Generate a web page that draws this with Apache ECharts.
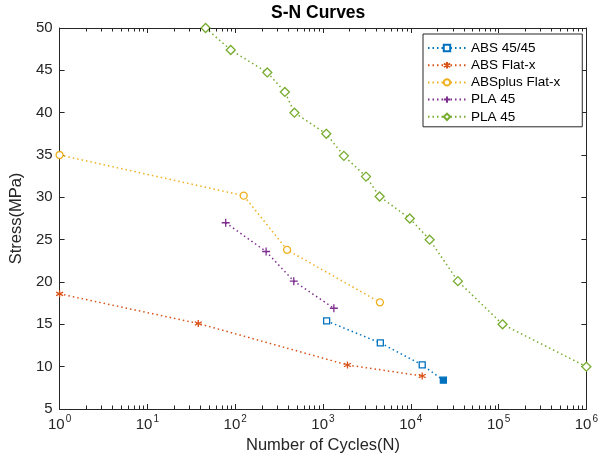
<!DOCTYPE html>
<html>
<head>
<meta charset="utf-8">
<style>
    html, body { margin: 0; padding: 0; overflow: hidden; background: #fff; }
</style>
</head>
<body>
<div id="chart" style="width:601px; height:459px;"></div>
<script src="https://cdn.jsdelivr.net/npm/echarts@6/dist/echarts.min.js"></script>
<script>
    // cycles (N) and stress (MPa)
    var abs4545Cycles = [1100, 4500, 13500, 23500];
    var abs4545Stress = [15.4, 12.8, 10.2, 8.4];

    var absFlatCycles = [1, 38, 1900, 13500];
    var absFlatStress = [18.6, 15.1, 10.2, 8.9];

    var absPlusCycles = [1, 125, 390, 4450];
    var absPlusStress = [35, 30.2, 23.8, 17.6];

    var pla45aCycles = [78, 225, 465, 1330];
    var pla45aStress = [27, 23.6, 20.1, 16.9];

    var pla45bCycles = [46, 89, 232, 368, 473, 1090, 1730, 3090, 4420, 9740, 16400, 34400, 111000, 1000000];
    var pla45bStress = [50, 47.4, 44.75, 42.45, 40, 37.5, 34.9, 32.45, 30.1, 27.5, 25, 20.1, 15, 10];

    var seriesNames = ['ABS 45/45', 'ABS Flat-x', 'ABSplus Flat-x', 'PLA 45', 'PLA 45 '];
    var colors = ['#0072BD', '#D95319', '#EDB120', '#7E2F8E', '#77AC30'];

    var yTicks = [5, 10, 15, 20, 25, 30, 35, 40, 45, 50];

    function zip(xs, ys) {
        return xs.map(function (x, i) { return [x, ys[i]]; });
    }

    var axisColor = '#262626';
    var font = 'Liberation Sans, Arial, Helvetica, sans-serif';

    // minor ticks of the log axis (2..9 in each decade)
    var minorVals = [];
    for (var k = 0; k < 6; k++) {
        for (var m = 2; m <= 9; m++) minorVals.push(m * Math.pow(10, k));
    }

    var asterisk = 'path://M0,-10L0,10M-8.66,-5L8.66,5M-8.66,5L8.66,-5';
    var plus = 'path://M0,-10L0,10M-10,0L10,0';

    function lineSeries(name, data, color, symbol, size, hollow) {
        return {
            name: name,
            type: 'line',
            data: data,
            symbol: symbol,
            symbolSize: size,
            z: 3,
            lineStyle: {color: color, width: 1.5, type: [1.5, 3]},
            itemStyle: {
                color: hollow ? '#fff' : color,
                borderColor: color,
                borderWidth: 1.3
            },
            emphasis: {disabled: true}
        };
    }

    var absData = zip(abs4545Cycles, abs4545Stress);
    // last point is drawn filled in the reference
    absData[absData.length - 1] = {
        value: absData[absData.length - 1],
        itemStyle: {color: colors[0]}
    };

    var chart = echarts.init(document.getElementById('chart'), null, {renderer: 'canvas'});

    chart.setOption({
        animation: false,
        backgroundColor: '#fff',
        title: {
            text: 'S-N Curves',
            left: 271,
            top: 4,
            padding: 0,
            textStyle: {fontFamily: font, fontSize: 17.5, fontWeight: 'bold', color: '#000'}
        },
        legend: {
            data: seriesNames,
            orient: 'vertical',
            left: 423,
            top: 34,
            padding: [7, 22, 3, 4],
            itemWidth: 38,
            itemHeight: 8,
            itemGap: 3.2,
            borderColor: axisColor,
            borderWidth: 1,
            backgroundColor: '#fff',
            selectedMode: false,
            formatter: function (name) { return name.trim(); },
            textStyle: {fontFamily: font, fontSize: 13.5, color: '#000'}
        },
        grid: {left: 57, right: 14, top: 28, bottom: 50, containLabel: false},
        xAxis: [{
            type: 'log',
            logBase: 10,
            min: 1,
            max: 1000000,
            splitNumber: 6,
            position: 'bottom',
            name: 'Number of Cycles(N)',
            nameLocation: 'middle',
            nameGap: 24,
            nameTextStyle: {fontFamily: font, fontSize: 16.5, color: axisColor},
            axisLine: {lineStyle: {color: axisColor, width: 1}},
            axisTick: {inside: true, length: 5, lineStyle: {color: axisColor}},
            splitLine: {show: false},
            axisLabel: {
                margin: 5,
                color: axisColor,
                formatter: function (v) {
                    var e = Math.round(Math.log(v) / Math.LN10);
                    return '{b|10}{s|' + e + '}';
                },
                rich: {
                    b: {fontFamily: font, fontSize: 15, color: axisColor, verticalAlign: 'bottom'},
                    s: {fontFamily: font, fontSize: 10, color: axisColor, verticalAlign: 'bottom', padding: [0, 0, 8, 1]}
                }
            }
        }, {
            type: 'log',
            logBase: 10,
            min: 1,
            max: 1000000,
            splitNumber: 6,
            position: 'top',
            axisLine: {lineStyle: {color: axisColor, width: 1}},
            axisTick: {inside: true, length: 5, lineStyle: {color: axisColor}},
            axisLabel: {show: false},
            splitLine: {show: false}
        }],
        yAxis: [{
            type: 'value',
            min: yTicks[0],
            max: yTicks[yTicks.length - 1],
            interval: 5,
            name: 'Stress(MPa)',
            nameLocation: 'middle',
            nameGap: 29,
            nameTextStyle: {fontFamily: font, fontSize: 16.5, color: axisColor},
            axisLine: {show: true, lineStyle: {color: axisColor, width: 1}},
            axisTick: {show: true, inside: true, length: 5, lineStyle: {color: axisColor}},
            splitLine: {show: false},
            axisLabel: {margin: 7, fontFamily: font, fontSize: 15, color: axisColor}
        }, {
            type: 'value',
            min: yTicks[0],
            max: yTicks[yTicks.length - 1],
            interval: 5,
            position: 'right',
            axisLine: {show: true, lineStyle: {color: axisColor, width: 1}},
            axisTick: {show: true, inside: true, length: 5, lineStyle: {color: axisColor}},
            axisLabel: {show: false},
            splitLine: {show: false}
        }],
        series: [
            lineSeries(seriesNames[0], absData, colors[0], 'rect', 6, true),
            lineSeries(seriesNames[1], zip(absFlatCycles, absFlatStress), colors[1], asterisk, 7, false),
            lineSeries(seriesNames[2], zip(absPlusCycles, absPlusStress), colors[2], 'circle', 7, true),
            lineSeries(seriesNames[3], zip(pla45aCycles, pla45aStress), colors[3], plus, 8, false),
            lineSeries(seriesNames[4], zip(pla45bCycles, pla45bStress), colors[4], 'diamond', 9, true)
        ]
    });

    // minor log ticks on bottom and top axes, placed through the axis scale
    var yBottom = chart.convertToPixel({yAxisIndex: 0}, yTicks[0]);
    var yTop = chart.convertToPixel({yAxisIndex: 0}, yTicks[yTicks.length - 1]);
    var tickEls = [];
    minorVals.forEach(function (v) {
        var x = Math.round(chart.convertToPixel({xAxisIndex: 0}, v));
        tickEls.push({type: 'rect', silent: true, z: 100,
            shape: {x: x, y: yBottom - 3.5, width: 1, height: 3.5},
            style: {fill: axisColor}});
        tickEls.push({type: 'rect', silent: true, z: 100,
            shape: {x: x, y: yTop, width: 1, height: 3.5},
            style: {fill: axisColor}});
    });
    chart.setOption({graphic: {elements: tickEls}});
</script>
</body>
</html>
